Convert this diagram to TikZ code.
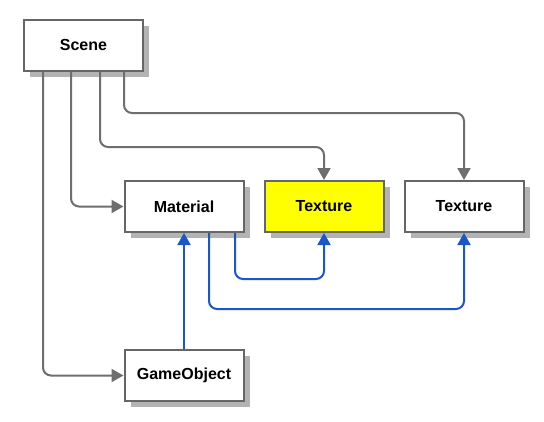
\documentclass[tikz,border=0pt]{standalone}
\usepackage{fontspec}
\setmainfont{Liberation Sans}
\usetikzlibrary{arrows.meta,shadows,calc}
\definecolor{edgegray}{HTML}{6E6E6E}
\definecolor{boxgray}{HTML}{666666}
\definecolor{shadowgray}{HTML}{B3B3B3}
\definecolor{linkblue}{HTML}{1A56CC}
\definecolor{hiyellow}{HTML}{FFFF00}
\tikzset{
  box/.style={draw=boxgray, line width=2pt, fill=white, minimum width=119pt, minimum height=51pt,
    inner sep=0pt, font=\fontsize{16}{19}\selectfont\bfseries,
    drop shadow={shadow xshift=6pt, shadow yshift=-6pt, fill=shadowgray, opacity=1}},
  grayarrow/.style={draw=edgegray, line width=2pt, rounded corners=8pt, -{Triangle[length=12pt,width=13pt]}},
  bluearrow/.style={draw=linkblue, line width=2pt, rounded corners=8pt, -{Triangle[length=12pt,width=13pt]}}
}
\begin{document}
\begin{tikzpicture}[x=1pt,y=-1pt]
\useasboundingbox[fill=white] (0,0) rectangle (544,421);
\node[box] (scene) at (83.5,45) {Scene};
\node[box] (material) at (184,206.5) {Material};
\node[box, fill=hiyellow] (tex1) at (324,206.5) {Texture};
\node[box] (tex2) at (464,206.5) {Texture};
\node[box] (game) at (184,375.5) {GameObject};
% gray connectors
\draw[grayarrow] ([xshift=-40.5pt]scene.south) |- (game.west);
\draw[grayarrow] ([xshift=-12.5pt]scene.south) |- (material.west);
\draw[grayarrow] ([xshift=16.5pt]scene.south) |- ([yshift=33pt]tex1.north) -- (tex1.north);
\draw[grayarrow] ([xshift=40.5pt]scene.south) |- ([yshift=67pt]tex2.north) -- (tex2.north);
% blue connectors
\draw[bluearrow] (game.north) -- (material.south);
\draw[bluearrow] ([xshift=51pt]material.south) |- ([yshift=-46pt]tex1.south) -- (tex1.south);
\draw[bluearrow] ([xshift=25pt]material.south) |- ([yshift=-76pt]tex2.south) -- (tex2.south);
\end{tikzpicture}
\end{document}
